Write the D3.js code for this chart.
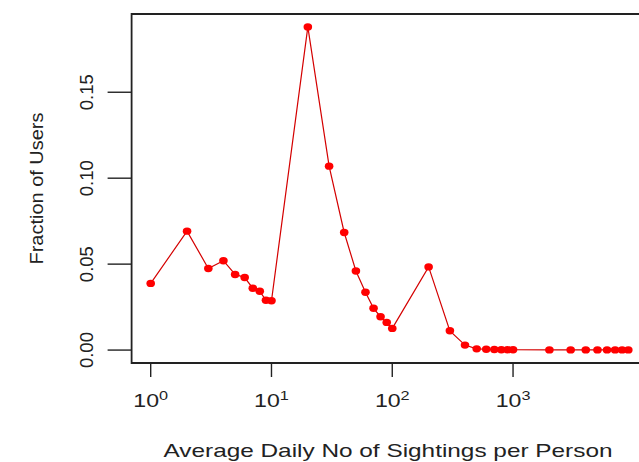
<!DOCTYPE html>
<html>
<head>
<meta charset="utf-8">
<script src="https://cdn.jsdelivr.net/npm/d3@7"></script>
<style>
  html, body { margin: 0; padding: 0; background: #fff; overflow: hidden; }
  text { font-family: "Liberation Sans", Arial, Helvetica, sans-serif; fill: #222; }
</style>
</head>
<body>
<svg id="chart" width="639" height="462"></svg>
<script>
// Average daily sightings per person (log scale) and the fraction of users at each level
const sightings = [1, 2, 3, 4, 5, 6, 7, 8, 9, 10,
  20, 30, 40, 50, 60, 70, 80, 90, 100,
  200, 300, 400, 500, 600, 700, 800, 900, 1000,
  2000, 3000, 4000, 5000, 6000, 7000, 8000, 9000];
const fraction = [0.0388, 0.0692, 0.0475, 0.0520, 0.0440, 0.0422, 0.0360, 0.0342, 0.0290, 0.0287,
  0.1880, 0.1070, 0.0684, 0.0460, 0.0336, 0.0243, 0.0194, 0.0161, 0.0126,
  0.0484, 0.0112, 0.0029, 0.0007, 0.0005, 0.0003, 0.0002, 0.0002, 0.0002,
  0.0001, 0.0001, 0.0001, 0.0001, 0.0001, 0.0001, 0.0001, 0.0001];

const xTicks = [1, 10, 100, 1000];
const xTickExp = ["0", "1", "2", "3"];
const yTicks = [0, 0.05, 0.10, 0.15];
const yTickLabels = ["0.00", "0.05", "0.10", "0.15"];

const xTitle = "Average Daily No of Sightings per Person";
const yTitle = "Fraction of Users";

const svg = d3.select("#chart");

// Plot region (the frame extends 4% beyond the data on every side)
const frameL = 131.6, frameR = 647.4, frameT = 14, frameB = 363;

const x = d3.scaleLog().domain([1, 9000]).range([150.7, 628.3]);
const y = d3.scaleLinear().domain([-0.00752, 0.19552]).range([frameB, frameT]);

// Frame (left, top, bottom edges visible)
svg.append("path")
  .attr("d", `M${frameR},${frameT} H${frameL} V${frameB} H${frameR}`)
  .attr("fill", "none")
  .attr("stroke", "#222")
  .attr("stroke-width", 1.8);

// X axis ticks and labels
const xAxis = svg.append("g");
xAxis.selectAll("line").data(xTicks).join("line")
  .attr("x1", d => x(d)).attr("x2", d => x(d))
  .attr("y1", frameB).attr("y2", frameB + 14)
  .attr("stroke", "#222").attr("stroke-width", 1.4);
const xl = xAxis.selectAll("g.lab").data(xTicks).join("g")
  .attr("class", "lab")
  .attr("transform", d => `translate(${x(d)},406.5) scale(1.25,1)`);
xl.append("text")
  .attr("text-anchor", "middle")
  .attr("font-size", 18.5)
  .each(function(d, i) {
    const t = d3.select(this);
    t.append("tspan").text("10");
    t.append("tspan").attr("dy", -7).attr("font-size", 13).text(xTickExp[i]);
  });

// Y axis ticks and labels
const yAxis = svg.append("g");
yAxis.selectAll("line").data(yTicks).join("line")
  .attr("x1", frameL - 24).attr("x2", frameL)
  .attr("y1", d => y(d)).attr("y2", d => y(d))
  .attr("stroke", "#222").attr("stroke-width", 1.4);
yAxis.selectAll("text").data(yTicks).join("text")
  .attr("transform", d => `translate(93,${y(d)}) rotate(-90)`)
  .attr("text-anchor", "middle")
  .attr("font-size", 18.5)
  .text((d, i) => yTickLabels[i]);

// Axis titles
svg.append("text")
  .attr("x", 388).attr("y", 457)
  .attr("text-anchor", "middle")
  .attr("font-size", 19)
  .attr("textLength", 449)
  .attr("lengthAdjust", "spacingAndGlyphs")
  .text(xTitle);

svg.append("text")
  .attr("transform", `translate(43,${(frameT + frameB) / 2}) rotate(-90)`)
  .attr("text-anchor", "middle")
  .attr("font-size", 19)
  .attr("textLength", 152)
  .attr("lengthAdjust", "spacingAndGlyphs")
  .text(yTitle);

// Series: connecting line and point markers
const data = sightings.map((s, i) => ({ s, f: fraction[i] }));

svg.append("path")
  .datum(data)
  .attr("fill", "none")
  .attr("stroke", "#d40000")
  .attr("stroke-width", 1.2)
  .attr("d", d3.line().x(d => x(d.s)).y(d => y(d.f)));

svg.append("g").selectAll("ellipse").data(data).join("ellipse")
  .attr("cx", d => x(d.s))
  .attr("cy", d => y(d.f))
  .attr("rx", 4.3)
  .attr("ry", 3.7)
  .attr("fill", "#ff0000");
</script>
</body>
</html>
